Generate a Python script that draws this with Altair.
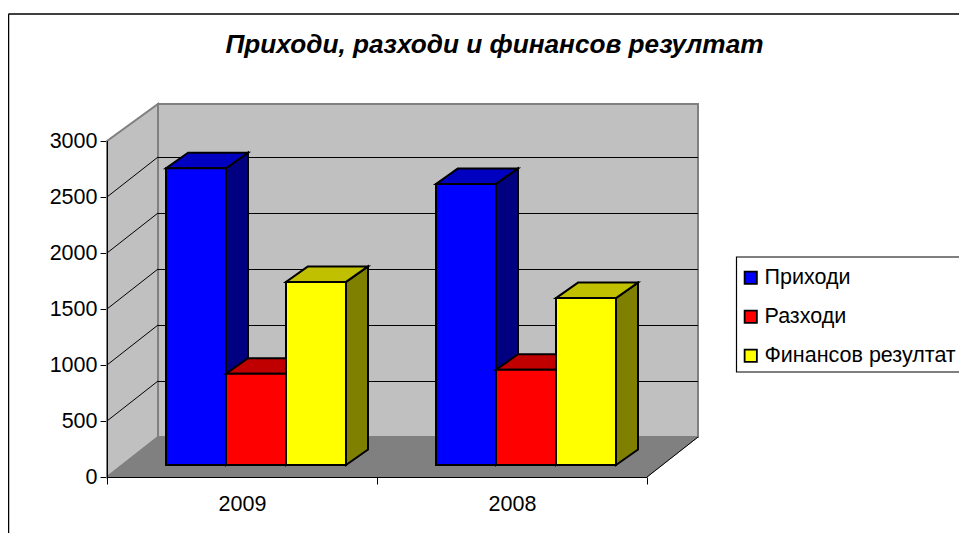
import altair as alt
import pandas as pd

# values
categories = ["2009", "2008"]
series = ["Приходи", "Разходи", "Финансов резултат"]
prihodi = [2650, 2510]
razhodi = [815, 850]
rezultat = [1635, 1490]
y_ticks = [0, 500, 1000, 1500, 2000, 2500, 3000]

front_colors = ["#0000ff", "#ff0000", "#ffff00"]
side_colors = ["#000080", "#800000", "#808000"]
top_colors = ["#0000c0", "#c00000", "#c0c000"]

FONT = "Liberation Sans"
W, H = 591, 376
PX_CAT = 270.0     # pixels per category
PX_VAL = 0.112     # pixels per value unit
XMAX = W / PX_CAT
YMAX = H / PX_VAL
WALL_DX = 51 / PX_CAT
WALL_DY = 40 / PX_VAL
WALL_TOP = WALL_DY + 3000 - 3 / PX_VAL
BAR_W = 60 / PX_CAT
BAR_START = 59 / PX_CAT
BAR_BASE = 12 / PX_VAL
BAR_DX = 22 / PX_CAT
BAR_DY = 15.5 / PX_VAL
NCAT = len(categories)
HALF_X = 0.5 / PX_CAT
HALF_Y = 0.5 / PX_VAL

xs = alt.Scale(domain=[0, XMAX], nice=False, zero=False)
ys = alt.Scale(domain=[0, YMAX], nice=False, zero=False)

x_label_expr = "datum.value == 0.5 ? '%s' : datum.value == 1.5 ? '%s' : ''" % tuple(categories)
x_axis = alt.Axis(
    values=[0, 0.5, 1, 1.5, 2], title=None, domain=False, grid=False,
    labelExpr=x_label_expr, labelFont=FONT, labelFontSize=21.5, labelColor="#000000",
    labelPadding=9, tickColor="#000000", tickSize=7, tickWidth=1, labelAngle=0,
    labelFlush=False, labelOverlap=False,
    tickOpacity={"condition": {"test": "datum.value % 1 == 0", "value": 1}, "value": 0},
)
y_axis = alt.Axis(
    values=y_ticks, title=None, domain=False, grid=False, format="d",
    labelFont=FONT, labelFontSize=21.5, labelColor="#000000", labelPadding=3,
    tickColor="#000000", tickSize=7, tickWidth=1, labelFlush=False, labelOverlap=False,
)


def X(f="x"):
    return alt.X(f"{f}:Q", scale=xs, axis=x_axis)


def Y(f="y"):
    return alt.Y(f"{f}:Q", scale=ys, axis=y_axis)


def X2(f="x2"):
    return alt.X2(f"{f}:Q")


def Y2(f="y2"):
    return alt.Y2(f"{f}:Q")


layers = []

# back wall
layers.append(
    alt.Chart(pd.DataFrame([dict(x=WALL_DX, x2=XMAX, y=WALL_DY, y2=WALL_TOP)]))
    .mark_rect(fill="#c0c0c0", stroke="#808080", strokeWidth=2)
    .encode(x=X(), x2=X2(), y=Y(), y2=Y2())
)
# left wall
layers.append(
    alt.Chart(pd.DataFrame([dict(x=0, y=0, y2=3000), dict(x=WALL_DX, y=WALL_DY, y2=WALL_TOP)]))
    .mark_area(orient="vertical", fill="#c0c0c0", stroke="#808080", strokeWidth=2, opacity=1)
    .encode(x=X(), y=Y(), y2=Y2())
)
# floor
layers.append(
    alt.Chart(pd.DataFrame([dict(y=0, x=0, x2=NCAT), dict(y=WALL_DY, x=WALL_DX, x2=XMAX)]))
    .mark_area(orient="horizontal", fill="#808080", stroke="#808080", strokeWidth=1, opacity=1)
    .encode(y=Y(), x=X(), x2=X2())
)
# gridlines on walls
grid = y_ticks[1:-1]
layers.append(
    alt.Chart(pd.DataFrame({"x": [WALL_DX] * len(grid), "x2": [XMAX] * len(grid),
                            "y": [v + WALL_DY - HALF_Y for v in grid]}))
    .mark_rule(color="#000000", strokeWidth=1)
    .encode(x=X(), x2=X2(), y=Y())
)
layers.append(
    alt.Chart(pd.DataFrame({"x": [0] * len(grid), "x2": [WALL_DX] * len(grid),
                            "y": grid, "y2": [v + WALL_DY for v in grid]}))
    .mark_rule(color="#000000", strokeWidth=1)
    .encode(x=X(), x2=X2(), y=Y(), y2=Y2())
)
# axis lines and right floor edge
layers.append(
    alt.Chart(pd.DataFrame([dict(x=HALF_X, y=0, y2=3000)]))
    .mark_rule(color="#000000", strokeWidth=1)
    .encode(x=X(), y=Y(), y2=Y2())
)
layers.append(
    alt.Chart(pd.DataFrame([dict(x=NCAT, x2=XMAX, y=0, y2=WALL_DY)]))
    .mark_rule(color="#000000", strokeWidth=1)
    .encode(x=X(), x2=X2(), y=Y(), y2=Y2())
)
layers.append(
    alt.Chart(pd.DataFrame([dict(x=0, x2=NCAT, y=-HALF_Y)]))
    .mark_rule(color="#000000", strokeWidth=1)
    .encode(x=X(), x2=X2(), y=Y())
)

# legend frame (its right edge falls outside the picture)
layers.append(
    alt.Chart(pd.DataFrame([dict(a=0)]))
    .mark_rect(fill="#ffffff", stroke="#000000", strokeWidth=1.2)
    .encode(x=alt.value(629.5), x2=alt.value(900), y=alt.value(156), y2=alt.value(271))
)

# bars
color_scale = alt.Scale(domain=series, range=front_colors)
table = [prihodi, razhodi, rezultat]
STROKE = 2
for i, name in enumerate(series):
    side, top, front = [], [], []
    for c in range(NCAT):
        v = table[i][c]
        x0 = c + BAR_START + i * BAR_W
        x1 = x0 + BAR_W
        yb = BAR_BASE
        yt = BAR_BASE + v
        side += [dict(g=c, x=x1, y=yb, y2=yt), dict(g=c, x=x1 + BAR_DX, y=yb + BAR_DY, y2=yt + BAR_DY)]
        top += [dict(g=c, y=yt, x=x0, x2=x1), dict(g=c, y=yt + BAR_DY, x=x0 + BAR_DX, x2=x1 + BAR_DX)]
        front.append(dict(g=c, s=name, x=x0, x2=x1, y=yb, y2=yt))
    layers.append(
        alt.Chart(pd.DataFrame(side))
        .mark_area(orient="vertical", fill=side_colors[i], stroke="#000000", strokeWidth=STROKE, opacity=1)
        .encode(x=X(), y=Y(), y2=Y2(), detail="g:N")
    )
    layers.append(
        alt.Chart(pd.DataFrame(top))
        .mark_area(orient="horizontal", fill=top_colors[i], stroke="#000000", strokeWidth=STROKE, opacity=1)
        .encode(y=Y(), x=X(), x2=X2(), detail="g:N")
    )
    layers.append(
        alt.Chart(pd.DataFrame(front))
        .mark_rect(stroke="#000000", strokeWidth=STROKE, opacity=1)
        .encode(
            x=X(), x2=X2(), y=Y(), y2=Y2(),
            color=alt.Color(
                "s:N", scale=color_scale,
                legend=alt.Legend(
                    title=None, orient="none", legendX=633, legendY=166,
                    padding=0,
                    symbolType="square", symbolSize=150, symbolStrokeColor="#000000",
                    symbolStrokeWidth=1.8, symbolOpacity=1, labelFont=FONT, labelFontSize=21.5,
                    labelColor="#000000", rowPadding=16, labelOffset=3, labelLimit=300,
                ),
            ),
        )
    )

# outer frame: only top and left edges are in the picture
layers.append(
    alt.Chart(pd.DataFrame([dict(a=0)]))
    .mark_rule(color="#000000", strokeWidth=1.5)
    .encode(x=alt.value(-98.5), x2=alt.value(870), y=alt.value(-87))
)
layers.append(
    alt.Chart(pd.DataFrame([dict(a=0)]))
    .mark_rule(color="#000000", strokeWidth=1.5)
    .encode(x=alt.value(-98.5), y=alt.value(-87), y2=alt.value(450))
)

chart = (
    alt.layer(*layers)
    .properties(
        width=W, height=H,
        autosize=alt.AutoSizeParams(type="none"),
        padding={"left": 99, "top": 93, "right": 261, "bottom": 56},
        background="#ffffff",
        title=alt.TitleParams(
            "Приходи, разходи и финансов резултат",
            font=FONT, fontSize=26.2, fontStyle="italic", fontWeight="bold", color="#000000",
            anchor="middle", dx=92, offset=-45,
        ),
    )
    .configure_view(stroke=None)
)

chart.save("out.html", embed_options={"renderer": "svg", "actions": False})
